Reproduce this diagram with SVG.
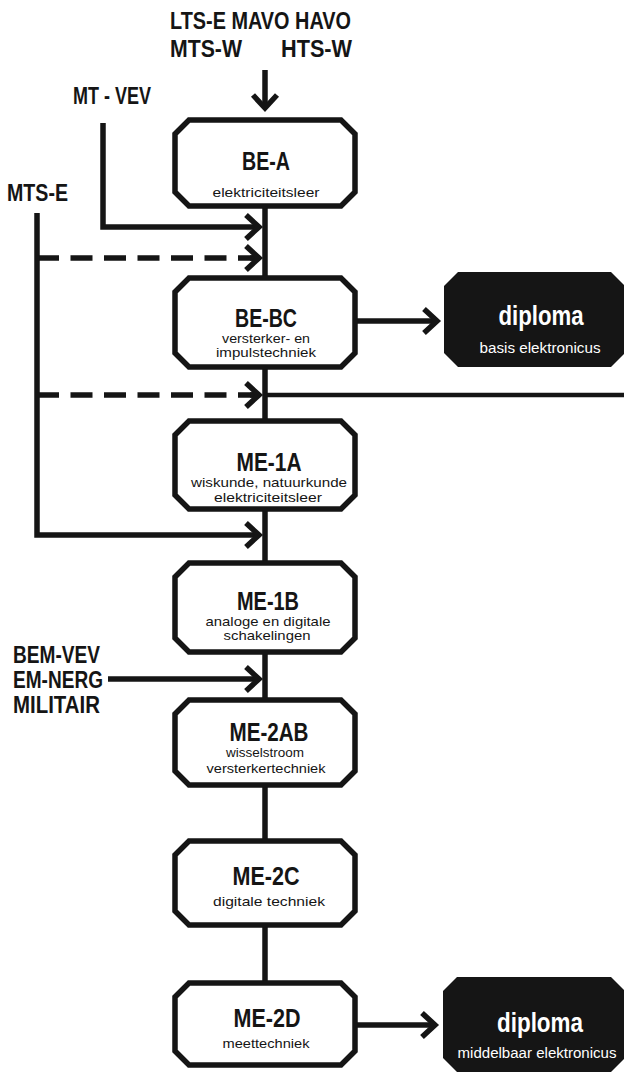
<svg xmlns="http://www.w3.org/2000/svg" width="624" height="1073" viewBox="0 0 624 1073">
  <defs>
    <style>
      .box { fill: #ffffff; stroke: #151515; stroke-width: 5.5; stroke-linejoin: miter; }
      .dip { fill: #151515; stroke: none; }
      .ln { fill: none; stroke: #151515; stroke-width: 5.5; stroke-linecap: butt; stroke-linejoin: miter; }
      .thin { fill: none; stroke: #151515; stroke-width: 4.5; }
      .dash { fill: none; stroke: #151515; stroke-width: 5.5; stroke-dasharray: 22 11.5; }
      .ttl { font-family: "Liberation Sans", Arial, sans-serif; font-weight: bold; font-size: 26px; fill: #151515; text-anchor: middle; }
      .sub { font-family: "Liberation Sans", Arial, sans-serif; font-size: 13.5px; fill: #151515; text-anchor: middle; }
      .lbl { font-family: "Liberation Sans", Arial, sans-serif; font-weight: bold; font-size: 23px; fill: #151515; }
      .dt { font-family: "Liberation Sans", Arial, sans-serif; font-weight: bold; font-size: 28px; fill: #ffffff; text-anchor: middle; }
      .ds { font-family: "Liberation Sans", Arial, sans-serif; font-size: 14px; fill: #ffffff; text-anchor: middle; }
    </style>
    <marker id="chev" markerUnits="userSpaceOnUse" viewBox="-20 -20 30 40" refX="0" refY="0" markerWidth="30" markerHeight="40" orient="auto" overflow="visible">
      <path d="M-13,-12 L0,0 L-13,12" fill="none" stroke="#151515" stroke-width="5.5" stroke-linejoin="miter"/>
    </marker>
  </defs>
  <rect x="0" y="0" width="624" height="1073" fill="#ffffff"/>

  <g id="connectors">
    <path class="ln" d="M265,70 V108" marker-end="url(#chev)"/>
    <path class="ln" d="M265,206 V278"/>
    <path class="ln" d="M265,367 V421"/>
    <path class="ln" d="M265,509 V563"/>
    <path class="ln" d="M265,652 V700"/>
    <path class="ln" d="M265,785 V841"/>
    <path class="ln" d="M265,925 V983"/>
    <path class="ln" d="M103,123 V227 H259" marker-end="url(#chev)"/>
    <path class="ln" d="M37,213 V535 H259" marker-end="url(#chev)"/>
    <path class="dash" d="M37,258 H260"/>
    <path class="ln" d="M250,258 H259" marker-end="url(#chev)"/>
    <path class="dash" d="M37,395 H260"/>
    <path class="ln" d="M250,395 H259" marker-end="url(#chev)"/>
    <path class="thin" d="M265,395 H624"/>
    <path class="ln" d="M108,679 H259" marker-end="url(#chev)"/>
    <path class="ln" d="M357,321 H437" marker-end="url(#chev)"/>
    <path class="ln" d="M357,1025 H435" marker-end="url(#chev)"/>
  </g>

  <g id="sources">
    <text class="lbl" x="170" y="29" textLength="181" lengthAdjust="spacingAndGlyphs">LTS-E MAVO HAVO</text>
    <text class="lbl" x="170" y="57" textLength="72" lengthAdjust="spacingAndGlyphs">MTS-W</text>
    <text class="lbl" x="281" y="57" textLength="71" lengthAdjust="spacingAndGlyphs">HTS-W</text>
    <text class="lbl" x="73" y="104" textLength="78" lengthAdjust="spacingAndGlyphs">MT - VEV</text>
    <text class="lbl" x="7" y="201" textLength="61" lengthAdjust="spacingAndGlyphs">MTS-E</text>
    <text class="lbl" x="13" y="663" textLength="87" lengthAdjust="spacingAndGlyphs">BEM-VEV</text>
    <text class="lbl" x="13" y="688" textLength="90" lengthAdjust="spacingAndGlyphs">EM-NERG</text>
    <text class="lbl" x="13" y="713" textLength="87" lengthAdjust="spacingAndGlyphs">MILITAIR</text>
  </g>

  <g id="BE-A">
    <path class="box" d="M189,120 H341 L355,134 V192 L341,206 H189 L175,192 V134 Z"/>
    <text class="ttl" x="266" y="170" textLength="48" lengthAdjust="spacingAndGlyphs">BE-A</text>
    <text class="sub" x="266" y="197" textLength="107" lengthAdjust="spacingAndGlyphs">elektriciteitsleer</text>
  </g>

  <g id="BE-BC">
    <path class="box" d="M189,278 H341 L355,292 V353 L341,367 H189 L175,353 V292 Z"/>
    <text class="ttl" x="266" y="327" textLength="62" lengthAdjust="spacingAndGlyphs">BE-BC</text>
    <text class="sub" x="266" y="343" textLength="88" lengthAdjust="spacingAndGlyphs">versterker- en</text>
    <text class="sub" x="266" y="357" textLength="100" lengthAdjust="spacingAndGlyphs">impulstechniek</text>
  </g>

  <g id="diploma-basis">
    <path class="dip" d="M458,272 H611 L625,286 V353 L611,367 H458 L444,353 V286 Z"/>
    <text class="dt" x="541" y="325" textLength="85" lengthAdjust="spacingAndGlyphs">diploma</text>
    <text class="ds" x="540" y="353" textLength="121" lengthAdjust="spacingAndGlyphs">basis elektronicus</text>
  </g>

  <g id="ME-1A">
    <path class="box" d="M189,421 H341 L355,435 V495 L341,509 H189 L175,495 V435 Z"/>
    <text class="ttl" x="269" y="471" textLength="65" lengthAdjust="spacingAndGlyphs">ME-1A</text>
    <text class="sub" x="269" y="487" textLength="156" lengthAdjust="spacingAndGlyphs">wiskunde, natuurkunde</text>
    <text class="sub" x="268" y="502" textLength="108" lengthAdjust="spacingAndGlyphs">elektriciteitsleer</text>
  </g>

  <g id="ME-1B">
    <path class="box" d="M189,563 H341 L355,577 V638 L341,652 H189 L175,638 V577 Z"/>
    <text class="ttl" x="268" y="610" textLength="62" lengthAdjust="spacingAndGlyphs">ME-1B</text>
    <text class="sub" x="268" y="626" textLength="125" lengthAdjust="spacingAndGlyphs">analoge en digitale</text>
    <text class="sub" x="267" y="640" textLength="87" lengthAdjust="spacingAndGlyphs">schakelingen</text>
  </g>

  <g id="ME-2AB">
    <path class="box" d="M189,700 H341 L355,714 V771 L341,785 H189 L175,771 V714 Z"/>
    <text class="ttl" x="269" y="741" textLength="79" lengthAdjust="spacingAndGlyphs">ME-2AB</text>
    <text class="sub" x="265" y="757" textLength="78" lengthAdjust="spacingAndGlyphs">wisselstroom</text>
    <text class="sub" x="266" y="773" textLength="119" lengthAdjust="spacingAndGlyphs">versterkertechniek</text>
  </g>

  <g id="ME-2C">
    <path class="box" d="M189,841 H341 L355,855 V911 L341,925 H189 L175,911 V855 Z"/>
    <text class="ttl" x="266" y="885" textLength="67" lengthAdjust="spacingAndGlyphs">ME-2C</text>
    <text class="sub" x="269" y="906" textLength="112" lengthAdjust="spacingAndGlyphs">digitale techniek</text>
  </g>

  <g id="ME-2D">
    <path class="box" d="M189,983 H341 L355,997 V1051 L341,1065 H189 L175,1051 V997 Z"/>
    <text class="ttl" x="267" y="1027" textLength="67" lengthAdjust="spacingAndGlyphs">ME-2D</text>
    <text class="sub" x="266" y="1048" textLength="87" lengthAdjust="spacingAndGlyphs">meettechniek</text>
  </g>

  <g id="diploma-middelbaar">
    <path class="dip" d="M457,977 H611 L625,991 V1058 L611,1072 H457 L443,1058 V991 Z"/>
    <text class="dt" x="540" y="1032" textLength="86" lengthAdjust="spacingAndGlyphs">diploma</text>
    <text class="ds" x="537" y="1058" textLength="159" lengthAdjust="spacingAndGlyphs">middelbaar elektronicus</text>
  </g>
</svg>
